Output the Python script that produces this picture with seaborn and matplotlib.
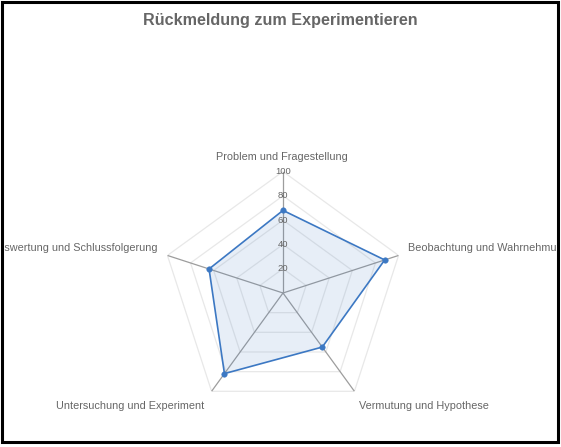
import numpy as np
import matplotlib
matplotlib.use("Agg")
import matplotlib.pyplot as plt
import seaborn as sns
from matplotlib.patches import Rectangle

# data
categories = ["Problem und Fragestellung", "Beobachtung und Wahrnehmung",
              "Vermutung und Hypothese", "Untersuchung und Experiment",
              "Auswertung und Schlussfolgerung"]
scores = [68, 88, 55, 82, 64]
ticks = [20, 40, 60, 80, 100]
title = "Rückmeldung zum Experimentieren"

sns.set_theme(style="white")
plt.rcParams["font.family"] = ["Liberation Sans", "DejaVu Sans"]

W, H = 561, 447
fig = plt.figure(figsize=(W / 100, H / 100), dpi=100)
cx, cy, R = 283, 293, 121.5
ax = fig.add_axes([(cx - R) / W, (H - cy - R) / H, 2 * R / W, 2 * R / H], projection="polar")
ax.set_theta_offset(np.pi / 2)
ax.set_theta_direction(-1)
ax.set_ylim(0, 100)
ax.grid(False)
ax.spines["polar"].set_visible(False)
ax.set_xticks([])
ax.set_yticks([])
ax.patch.set_alpha(0)

angles = np.linspace(0, 2 * np.pi, len(categories), endpoint=False)
closed = np.append(angles, angles[0])

# polygon grid rings
for t in ticks:
    ax.plot(closed, [t] * len(closed), color="#e8e8e8", lw=0.9, zorder=1)
# spokes
for a in angles:
    ax.plot([a, a], [0, ticks[-1]], color="#9d9d9d", lw=0.9, zorder=2)

# data polygon
vals = np.append(scores, scores[0])
ax.fill(closed, vals, color="#3c78c3", alpha=0.12, lw=0, zorder=3)
ax.plot(closed, vals, color="#3c78c3", lw=1.2, zorder=4)
sns.scatterplot(x=angles, y=scores, ax=ax, color="#3c78c3", s=16,
                edgecolor="#3c78c3", zorder=5)

# tick labels on the top spoke
for t in ticks:
    ax.text(0, t, str(t), ha="center", va="center", fontsize=6.8,
            color="#666666", zorder=6)

# frame around the whole chart
frame = Rectangle((1.5 / W, (H - 442) / H), (557.5 - 1.5) / W, (442 - 1.5) / H,
                  transform=fig.transFigure, fill=False, ec="black", lw=2.2,
                  zorder=10)
fig.patches.append(frame)
clip = Rectangle((2.5 / W, (H - 441) / H), (556.5 - 2.5) / W, (441 - 2.5) / H,
                 transform=fig.transFigure, fill=False, lw=0)

# category labels
offsets = [(-1, 14, "center"), (9, 7.5, "left"), (5, -15, "left"),
           (-7, -15, "right"), (-10, 7.5, "right")]
for a, lab, (dx, dy, ha) in zip(angles, categories, offsets):
    txt = ax.annotate(lab, xy=(a, ticks[-1]), xytext=(dx, dy),
                      textcoords="offset pixels", ha=ha, va="center",
                      fontsize=7.8, color="#666666", annotation_clip=False)
    txt.set_clip_path(clip)
    txt.set_clip_on(True)

fig.text(280 / W, 1 - 20.5 / H, title, ha="center", va="center",
         fontsize=11.6, fontweight="bold", color="#666666")

fig.savefig("out.png", dpi=100)
